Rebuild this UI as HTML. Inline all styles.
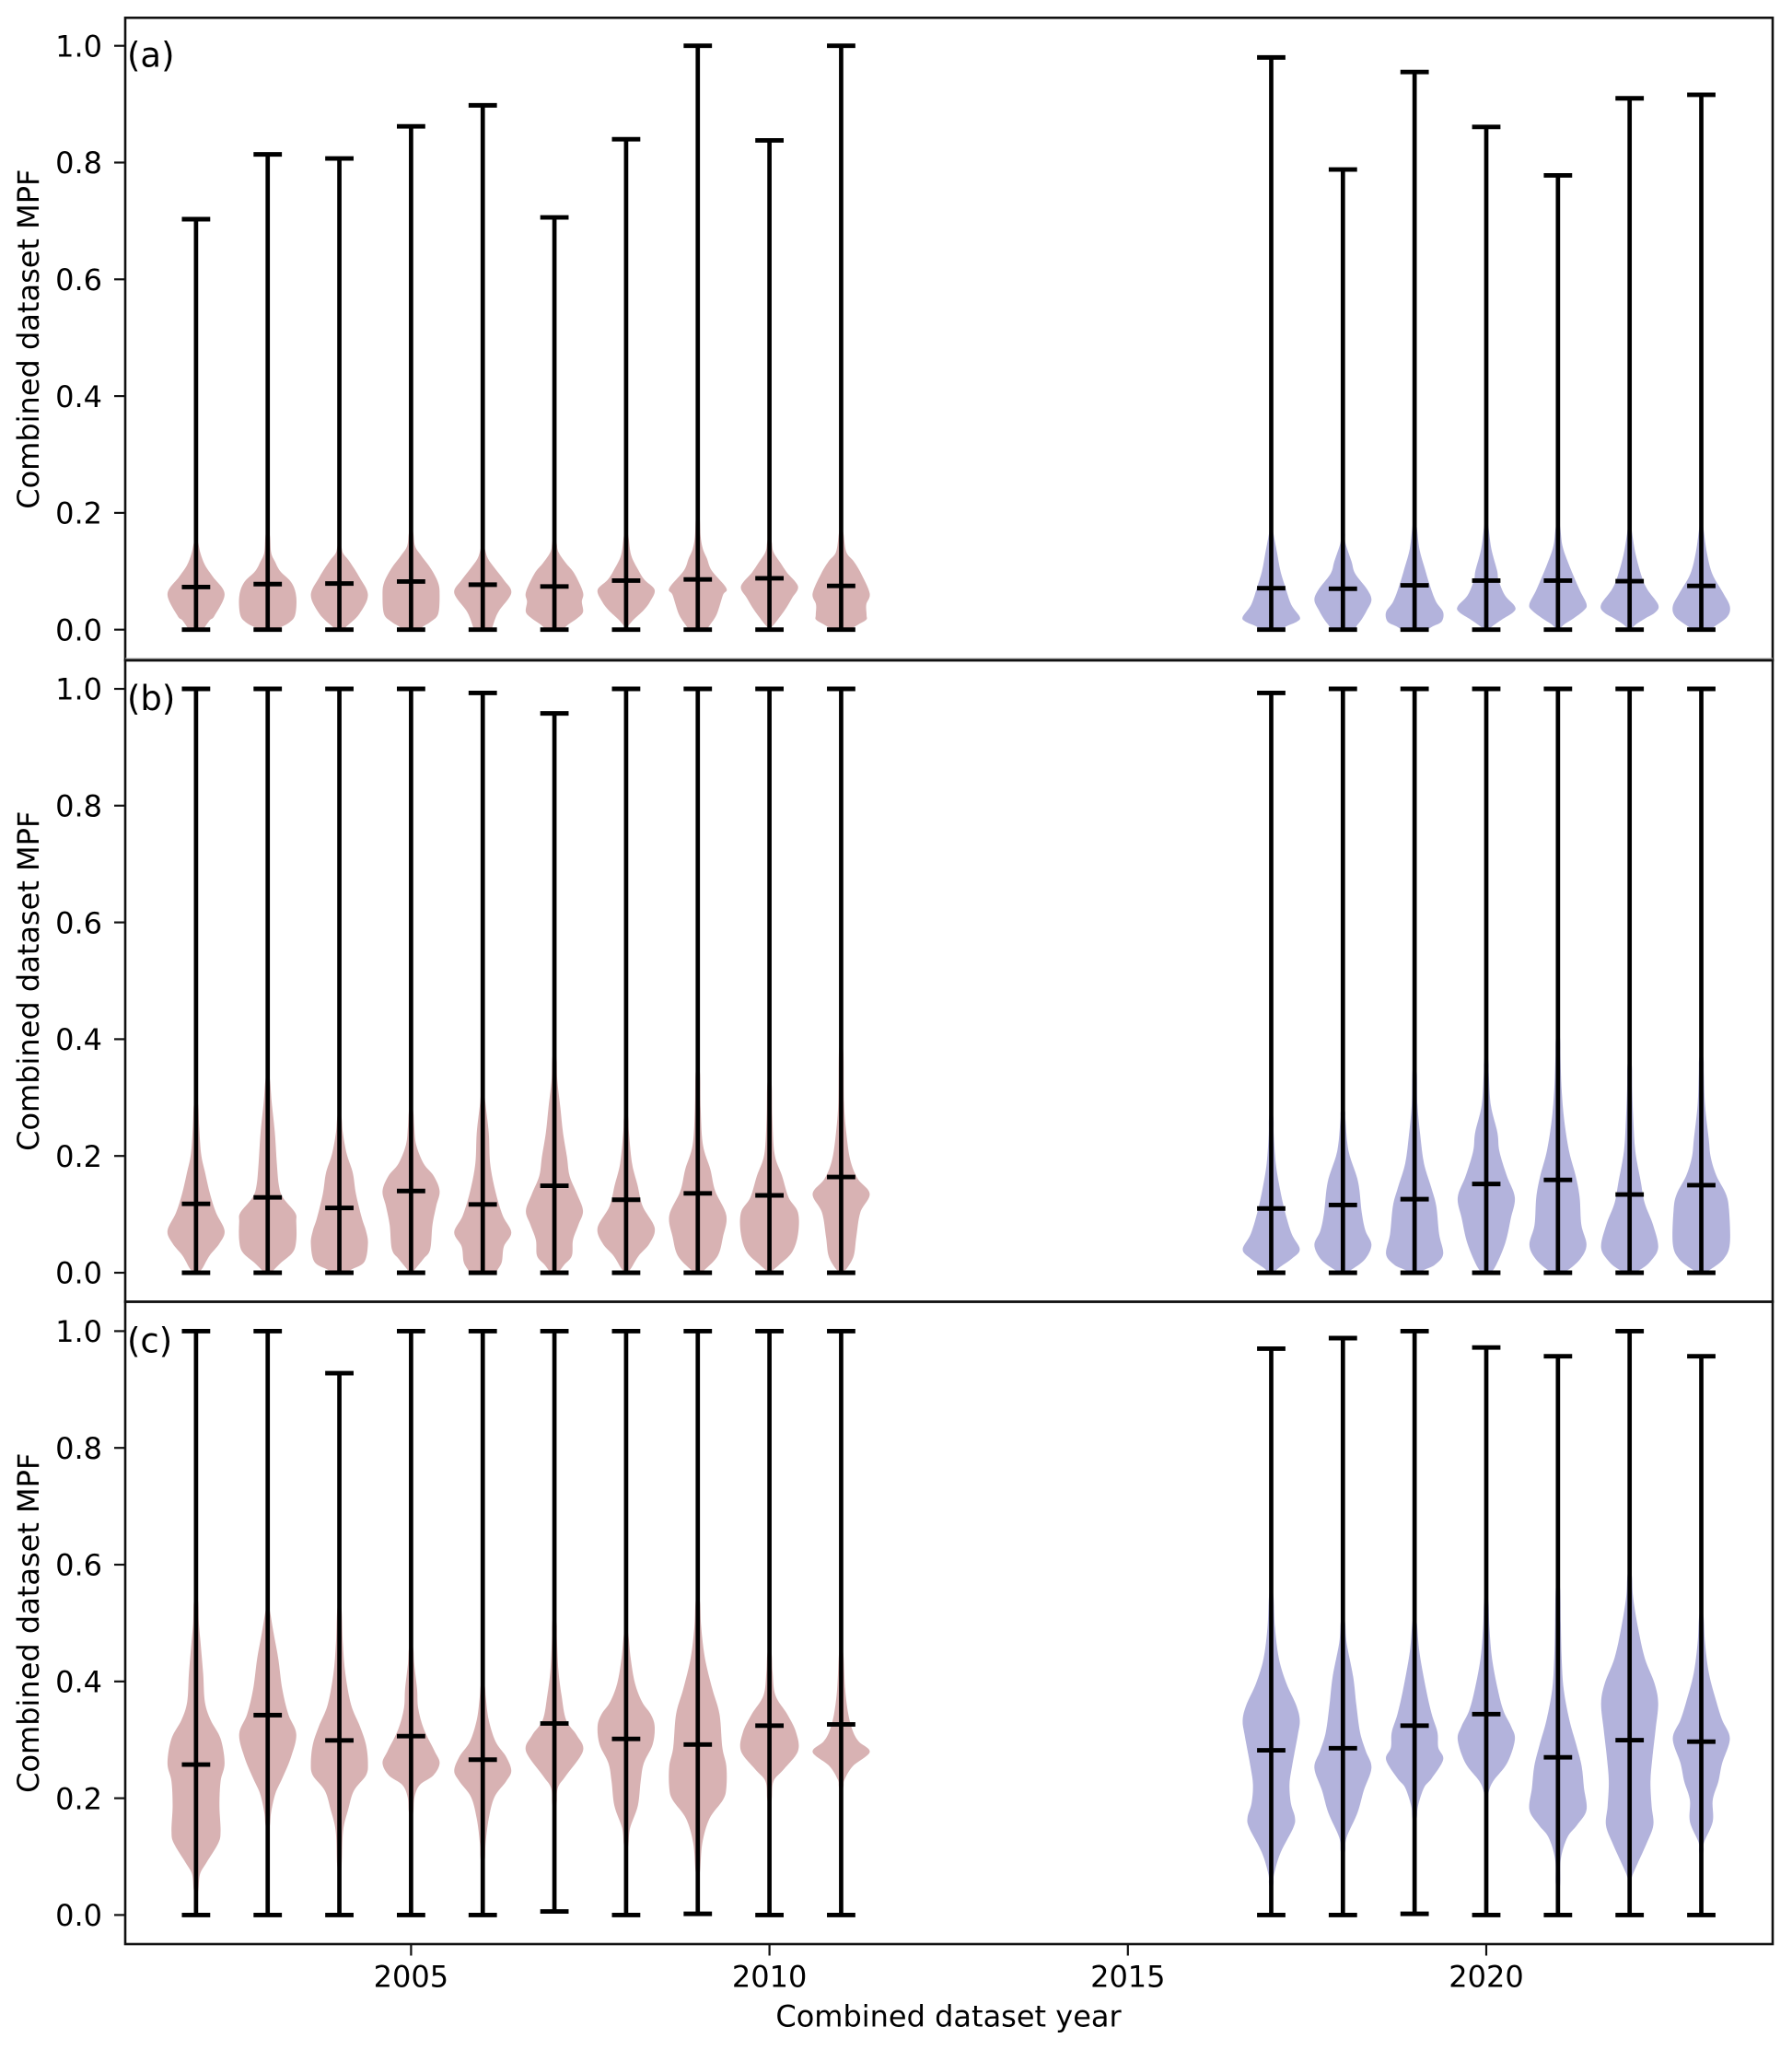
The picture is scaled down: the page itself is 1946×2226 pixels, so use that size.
<!DOCTYPE html>
<html lang="en">
<head>
<meta charset="utf-8">
<title>Combined dataset MPF violin plots</title>
<style>
html,body{margin:0;padding:0;background:#fff;width:1946px;height:2226px;overflow:hidden}
svg{display:block}
text{font-family:"DejaVu Sans","Liberation Sans",sans-serif;fill:#000}
</style>
</head>
<body>
<svg id="chart" xmlns="http://www.w3.org/2000/svg" width="1946" height="2226" viewBox="0 0 1946 2226"></svg>
<script>
const years = [2002,2003,2004,2005,2006,2007,2008,2009,2010,2011,2017,2018,2019,2020,2021,2022,2023];
const yTickValues = [0,0.2,0.4,0.6,0.8,1.0];
const yTickLabels = ["0.0","0.2","0.4","0.6","0.8","1.0"];
const xTickValues = [2005,2010,2015,2020];
const xTickLabels = ["2005","2010","2015","2020"];
const panelLabels = ["(a)","(b)","(c)"];

const panelAMax = [.703,.814,.807,.862,.898,.706,.84,1,.838,1,.98,.788,.955,.861,.778,.91,.916];
const panelAMean = [.073,.078,.079,.0825,.077,.074,.084,.086,.088,.075,.071,.07,.076,.084,.084,.083,.075];
const panelAMin = [0,0,0,0,0,0,0,0,0,0,0,0,0,0,0,0,0];
const panelAProfiles = [
[[0,.25],[.016,.48],[.024,.65],[.061,1],[.09,.6],[.11,.32],[.13,.16],[.148,.08],[.165,.01]],
[[0,.3],[.004,.45],[.012,.75],[.025,.96],[.056,1],[.08,.84],[.1,.44],[.117,.25],[.132,.12],[.16,.08],[.178,.01]],
[[0,.14],[.006,.26],[.027,.7],[.059,1],[.09,.7],[.117,.35],[.13,.14],[.14,.08],[.16,.01]],
[[0,.3],[.006,.44],[.014,.7],[.027,.95],[.059,1],[.08,.95],[.104,.7],[.127,.35],[.143,.14],[.165,.08],[.185,.01]],
[[0,.3],[.006,.35],[.019,.44],[.033,.58],[.063,1],[.085,.74],[.104,.44],[.122,.18],[.14,.07],[.16,.01]],
[[0,.3],[.009,.49],[.019,.79],[.03,1],[.048,.96],[.064,1],[.096,.7],[.114,.4],[.133,.14],[.148,.08],[.17,.01]],
[[0,.02],[.004,.04],[.017,.26],[.033,.61],[.048,.84],[.068,1],[.085,.65],[.101,.44],[.127,.18],[.16,.08],[.18,.01]],
[[0,.3],[.009,.44],[.027,.67],[.059,.88],[.071,1],[.101,.49],[.122,.32],[.138,.18],[.159,.1],[.19,.07],[.21,.01]],
[[0,.03],[.004,.07],[.012,.21],[.033,.53],[.054,.79],[.074,1],[.098,.61],[.114,.39],[.133,.14],[.15,.08],[.17,.01]],
[[0,.3],[.009,.61],[.017,.88],[.025,.89],[.043,.88],[.062,1],[.096,.7],[.117,.44],[.133,.18],[.165,.08],[.185,.01]],
[[0,.4],[.006,.54],[.014,.91],[.022,1],[.043,.7],[.075,.48],[.101,.32],[.133,.2],[.164,.08],[.185,.01]],
[[0,.45],[.006,.48],[.017,.65],[.033,.84],[.051,1],[.069,.85],[.096,.43],[.117,.3],[.148,.09],[.165,.07],[.18,.01]],
[[0,.45],[.001,.48],[.006,.65],[.014,.95],[.03,1],[.048,.75],[.075,.54],[.106,.35],[.138,.17],[.175,.08],[.2,.01]],
[[0,.05],[.001,.09],[.006,.22],[.017,.54],[.03,.95],[.04,1],[.059,.65],[.085,.43],[.101,.38],[.138,.18],[.175,.08],[.2,.01]],
[[0,.04],[.001,.06],[.009,.22],[.019,.54],[.033,.91],[.044,1],[.069,.75],[.112,.38],[.143,.16],[.175,.08],[.196,.01]],
[[0,.04],[.001,.06],[.009,.22],[.019,.54],[.03,.91],[.043,1],[.069,.62],[.09,.43],[.127,.22],[.164,.09],[.185,.05],[.196,.01]],
[[0,.32],[.006,.48],[.022,.91],[.04,1],[.064,.75],[.096,.38],[.133,.19],[.175,.07],[.195,.01]]
];

const panelBMax = [1,1,1,1,.993,.958,1,1,1,1,.993,1,1,1,1,1,1];
const panelBMean = [.118,.129,.111,.14,.117,.149,.125,.136,.1325,.164,.11,.116,.126,.152,.159,.134,.15];
const panelBMin = [0,0,0,0,0,0,0,0,0,0,0,0,0,0,0,0,0];
const panelBProfiles = [
[[0,.1],[.003,.14],[.008,.23],[.029,.47],[.05,.82],[.072,1],[.103,.7],[.135,.49],[.171,.32],[.203,.18],[.25,.11],[.286,.08],[.305,.01]],
[[0,.12],[.003,.18],[.016,.44],[.035,.88],[.056,1],[.087,1],[.103,.96],[.129,.53],[.15,.39],[.187,.32],[.24,.25],[.292,.14],[.33,.08],[.35,.01]],
[[0,.2],[.006,.44],[.019,.88],[.05,1],[.072,.93],[.093,.79],[.135,.58],[.171,.47],[.203,.26],[.24,.12],[.264,.08],[.285,.01]],
[[0,.05],[.006,.14],[.024,.44],[.04,.67],[.082,.75],[.114,.88],[.14,1],[.166,.79],[.187,.44],[.219,.18],[.25,.11],[.275,.08],[.295,.01]],
[[0,.45],[.006,.53],[.019,.67],[.045,.74],[.069,1],[.098,.7],[.14,.44],[.187,.26],[.24,.21],[.292,.09],[.335,.02]],
[[0,.12],[.003,.18],[.014,.35],[.029,.61],[.056,.65],[.082,.84],[.106,1],[.135,.79],[.166,.53],[.198,.44],[.24,.3],[.282,.21],[.33,.1],[.365,.08],[.385,.01]],
[[0,.05],[.008,.18],[.029,.44],[.05,.82],[.077,1],[.114,.58],[.15,.4],[.187,.21],[.24,.1],[.264,.08],[.285,.01]],
[[0,.08],[.006,.26],[.029,.7],[.061,.88],[.098,1],[.14,.61],[.177,.44],[.219,.18],[.282,.1],[.34,.08],[.36,.01]],
[[0,.05],[.003,.09],[.014,.35],[.035,.79],[.066,1],[.103,1],[.129,.67],[.166,.44],[.203,.18],[.266,.1],[.32,.08],[.34,.01]],
[[0,.04],[.003,.09],[.008,.21],[.029,.44],[.061,.53],[.103,.67],[.135,1],[.161,.58],[.193,.32],[.24,.18],[.292,.1],[.376,.08],[.395,.01]],
[[0,.1],[.008,.26],[.024,.72],[.04,1],[.066,.72],[.103,.49],[.145,.3],[.187,.16],[.235,.09],[.264,.08],[.285,.01]],
[[0,.1],[.008,.39],[.024,.79],[.048,1],[.072,.79],[.103,.66],[.156,.53],[.208,.2],[.261,.09],[.275,.08],[.295,.01]],
[[0,.1],[.006,.39],[.014,.72],[.032,1],[.066,.86],[.114,.76],[.145,.59],[.187,.33],[.235,.2],[.287,.1],[.342,.08],[.36,.01]],
[[0,.05],[.008,.29],[.05,.66],[.093,.86],[.129,1],[.166,.72],[.208,.46],[.24,.39],[.287,.16],[.34,.09],[.36,.08],[.385,.01]],
[[0,.1],[.006,.39],[.024,.79],[.048,1],[.082,.82],[.129,.76],[.166,.62],[.208,.39],[.261,.22],[.313,.13],[.366,.09],[.398,.08],[.425,.01]],
[[0,.1],[.006,.39],[.019,.72],[.043,1],[.082,.82],[.119,.53],[.156,.39],[.208,.2],[.261,.13],[.313,.09],[.353,.08],[.375,.01]],
[[0,.05],[.006,.33],[.024,.79],[.05,1],[.108,.97],[.135,.86],[.166,.53],[.198,.33],[.229,.26],[.287,.13],[.34,.09],[.365,.08],[.385,.01]]
];

const panelCMax = [1,1,.928,1,1,1,1,1,1,1,.97,.988,1,.972,.957,1,.957];
const panelCMean = [.2577,.3423,.299,.3063,.266,.328,.3016,.292,.3243,.3265,.282,.2857,.3243,.344,.27,.2995,.2968];
const panelCMin = [0,0,0,0,0,.006,0,.002,0,0,0,0,.002,0,0,0,0];
const panelCProfiles = [
[[.025,.01],[.043,.08],[.07,.14],[.09,.37],[.123,.78],[.144,.86],[.187,.82],[.229,.86],[.26,1],[.302,.86],[.334,.51],[.365,.31],[.413,.25],[.466,.16],[.5,.1],[.535,.08],[.555,.01]],
[[.135,.01],[.155,.08],[.176,.12],[.208,.27],[.234,.51],[.271,.82],[.31,1],[.344,.72],[.387,.51],[.439,.37],[.482,.21],[.52,.08],[.54,.01]],
[[.065,.01],[.087,.08],[.144,.13],[.181,.31],[.213,.51],[.239,.93],[.26,1],[.292,.93],[.323,.72],[.36,.41],[.413,.21],[.466,.12],[.52,.08],[.54,.01]],
[[.155,.01],[.177,.08],[.202,.12],[.223,.31],[.239,.78],[.26,1],[.281,.82],[.318,.45],[.354,.25],[.387,.21],[.43,.11],[.455,.08],[.475,.01]],
[[.075,.01],[.098,.08],[.123,.1],[.165,.21],[.202,.41],[.229,.82],[.247,1],[.271,.82],[.297,.45],[.334,.21],[.371,.11],[.39,.08],[.41,.01]],
[[.17,.01],[.192,.08],[.218,.12],[.239,.41],[.281,1],[.308,.78],[.334,.41],[.376,.25],[.419,.14],[.47,.09],[.5,.08],[.52,.01]],
[[.1,.01],[.121,.08],[.149,.14],[.187,.41],[.229,.51],[.26,.62],[.292,.93],[.323,1],[.344,.86],[.365,.56],[.397,.31],[.44,.16],[.48,.08],[.5,.01]],
[[.055,.01],[.076,.08],[.123,.16],[.165,.41],[.197,.88],[.218,1],[.255,1],[.287,.86],[.344,.76],[.387,.51],[.44,.25],[.493,.12],[.535,.08],[.555,.01]],
[[.178,.01],[.199,.08],[.229,.14],[.25,.51],[.281,1],[.313,.93],[.344,.62],[.376,.21],[.415,.11],[.445,.08],[.465,.01]],
[[.2,.01],[.22,.08],[.232,.12],[.255,.41],[.279,1],[.297,.62],[.315,.41],[.344,.25],[.387,.14],[.445,.08],[.465,.01]],
[[.035,.01],[.054,.08],[.07,.1],[.107,.33],[.149,.77],[.167,.83],[.191,.69],[.223,.64],[.255,.73],[.308,.93],[.334,1],[.36,.87],[.397,.53],[.439,.27],[.493,.13],[.545,.08],[.565,.01]],
[[.09,.01],[.11,.08],[.133,.13],[.175,.51],[.213,.73],[.252,1],[.281,.8],[.313,.6],[.36,.47],[.408,.36],[.466,.13],[.5,.08],[.52,.01]],
[[.147,.01],[.167,.08],[.187,.12],[.218,.33],[.234,.6],[.266,1],[.287,.83],[.313,.8],[.344,.6],[.387,.4],[.45,.17],[.5,.08],[.52,.01]],
[[.19,.01],[.21,.08],[.229,.24],[.26,.73],[.3,1],[.323,.87],[.35,.6],[.387,.4],[.44,.2],[.493,.11],[.535,.08],[.555,.01]],
[[.035,.01],[.054,.08],[.096,.1],[.133,.33],[.154,.67],[.18,1],[.218,.91],[.255,.83],[.292,.64],[.334,.4],[.387,.2],[.44,.13],[.5,.1],[.557,.08],[.575,.01]],
[[.045,.01],[.065,.08],[.085,.25],[.123,.6],[.154,.83],[.187,.77],[.229,.73],[.271,.8],[.318,.91],[.363,1],[.397,.87],[.44,.53],[.493,.29],[.545,.12],[.58,.08],[.6,.01]],
[[.09,.01],[.11,.08],[.125,.1],[.16,.4],[.197,.4],[.229,.6],[.26,.73],[.302,1],[.334,.73],[.365,.53],[.413,.27],[.466,.13],[.51,.08],[.53,.01]]
];

const NS = "http://www.w3.org/2000/svg";
const svg = document.getElementById("chart");
const frameLeft = 136, frameRight = 1925;
const panelKeys = ["a","b","c"];
const panelTops = [19.3,717,1413.5];
const panelBottoms = [717,1413.5,2111];
const panelZeros = [683.7,1382,2079.4];
const pxPerUnit = 634;
const allMax = [panelAMax,panelBMax,panelCMax];
const allMean = [panelAMean,panelBMean,panelCMean];
const allMin = [panelAMin,panelBMin,panelCMin];
const allProfiles = [panelAProfiles,panelBProfiles,panelCProfiles];

function xScale(year){ return 446.4 + 77.84 * (year - 2005); }
function yScale(panel, value){ return panelZeros[panel] - pxPerUnit * value; }

function make(tag, parent, props){
  const el = document.createElementNS(NS, tag);
  for (const k in props) el.setAttribute(k, props[k]);
  parent.appendChild(el);
  return el;
}

function violinPath(panel, year, profile){
  const cx = xScale(year), half = 31;
  const right = profile.map(p => [cx + half * p[1], yScale(panel, p[0])]);
  const left = profile.map(p => [cx - half * p[1], yScale(panel, p[0])]).reverse();
  let d = "M" + right[0][0].toFixed(2) + " " + right[0][1].toFixed(2);
  function seg(arr){
    for (let i = 0; i < arr.length - 1; i++){
      const p0 = arr[Math.max(i - 1, 0)], p1 = arr[i], p2 = arr[i + 1], p3 = arr[Math.min(i + 2, arr.length - 1)];
      const c1x = p1[0] + (p2[0] - p0[0]) / 6, c1y = p1[1] + (p2[1] - p0[1]) / 6;
      const c2x = p2[0] - (p3[0] - p1[0]) / 6, c2y = p2[1] - (p3[1] - p1[1]) / 6;
      d += "C" + c1x.toFixed(2) + " " + c1y.toFixed(2) + " " + c2x.toFixed(2) + " " + c2y.toFixed(2) + " " + p2[0].toFixed(2) + " " + p2[1].toFixed(2);
    }
  }
  seg(right);
  d += "L" + left[0][0].toFixed(2) + " " + left[0][1].toFixed(2);
  seg(left);
  return d + "Z";
}

function drawPanel(panel){
  const key = panelKeys[panel];
  const g = make("g", svg, {});
  
  

  years.forEach(function(year, i){
    const vg = make("g", g, {});
    
    
    const body = make("path", vg, {d: violinPath(panel, year, allProfiles[panel][i]), fill: year < 2015 ? "#d8b2b3" : "#b3b3dc"});
    
    
    const cx = xScale(year);
    const stem = make("line", vg, {x1: cx, x2: cx, y1: yScale(panel, allMin[panel][i]), y2: yScale(panel, allMax[panel][i]), stroke: "#000", "stroke-width": 4.7});
    
    
    [["max", allMax[panel][i]], ["mean", allMean[panel][i]], ["min", allMin[panel][i]]].forEach(function(c){
      const cap = make("line", vg, {x1: cx - 15.4, x2: cx + 15.4, y1: yScale(panel, c[1]), y2: yScale(panel, c[1]), stroke: "#000", "stroke-width": 4.9});
      
      
    });
  });

  const frame = make("rect", g, {x: frameLeft, y: panelTops[panel], width: frameRight - frameLeft, height: panelBottoms[panel] - panelTops[panel], fill: "none", stroke: "#111", "stroke-width": 2.6});
  
  

  yTickValues.forEach(function(v, i){
    const y = yScale(panel, v);
    const tick = make("line", g, {x1: frameLeft - 12, x2: frameLeft, y1: y, y2: y, stroke: "#111", "stroke-width": 2.2});
    
    
    const lab = make("text", g, {x: 111, y: y + 11.7, "text-anchor": "end", "font-size": 32});
    
    
    lab.textContent = yTickLabels[i];
  });

  const yc = (panelTops[panel] + panelBottoms[panel]) / 2;
  const yTitle = make("text", g, {x: 42, y: yc, "text-anchor": "middle", "font-size": 32, transform: "rotate(-90 42 " + yc + ")"});
  
  
  yTitle.textContent = "Combined dataset MPF";

  const pl = make("text", g, {x: 138, y: yScale(panel, 1.0) + 23, "font-size": 37});
  
  
  pl.textContent = panelLabels[panel];
}

[0,1,2].forEach(drawPanel);

const sepA = make("line", svg, {x1: frameLeft, x2: frameRight, y1: 715, y2: 715, stroke: "#aaa", "stroke-width": 1});



xTickValues.forEach(function(v, i){
  const x = xScale(v);
  const tick = make("line", svg, {x1: x, x2: x, y1: 2111, y2: 2123.5, stroke: "#111", "stroke-width": 2.2});
  
  
  const lab = make("text", svg, {x: x, y: 2157.3, "text-anchor": "middle", "font-size": 32});
  
  
  lab.textContent = xTickLabels[i];
});

const xTitle = make("text", svg, {x: 1030, y: 2200.5, "text-anchor": "middle", "font-size": 32});


xTitle.textContent = "Combined dataset year";
</script>
</body>
</html>
